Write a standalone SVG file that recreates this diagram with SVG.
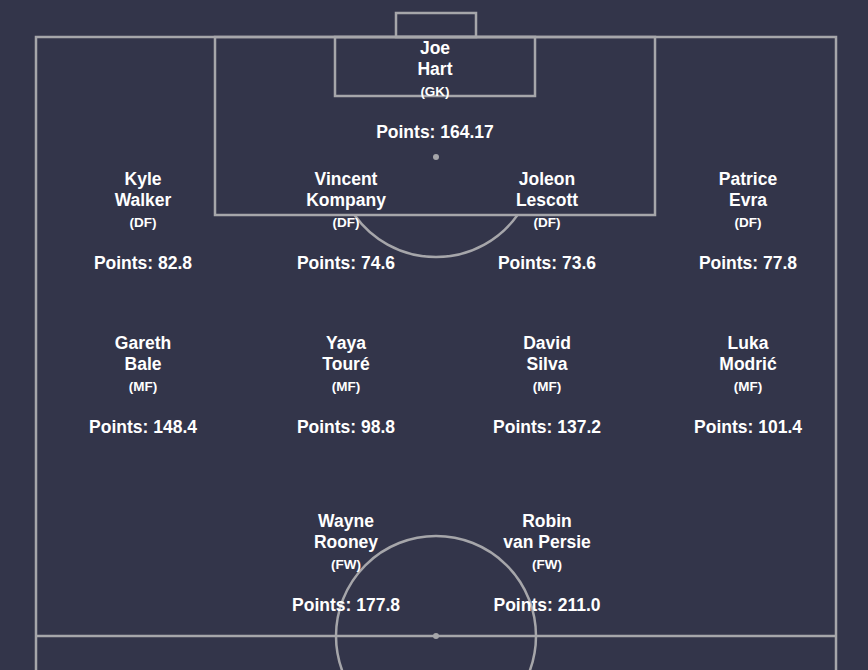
<svg xmlns="http://www.w3.org/2000/svg" width="868" height="670" viewBox="0 0 868 670">
<style>
.ln{fill:none;stroke:#a6a6aa;stroke-width:2.5}
.spot{fill:#a6a6aa}
text{font-family:"Liberation Sans",Arial,sans-serif;font-weight:bold;fill:#ffffff;text-anchor:middle}
.nm{font-size:17.5px}
.ps{font-size:13.5px}
.pt{font-size:17.5px}
</style>
<rect width="868" height="670" fill="#33354a"/>
<g id="pitch">
<rect class="ln" x="36" y="37" width="800" height="1198"/>
<line class="ln" x1="36" y1="636" x2="836" y2="636"/>
<circle class="ln" cx="436" cy="636" r="100"/>
<circle class="spot" cx="436" cy="636" r="3"/>
<rect class="ln" x="215" y="37" width="440" height="178"/>
<rect class="ln" x="335" y="37" width="200" height="59"/>
<rect class="ln" x="396" y="13" width="80" height="24"/>
<circle class="spot" cx="436" cy="157" r="3"/>
<path class="ln" d="M354.5 215 A100 100 0 0 0 517.5 215"/>
</g>
<g id="connectors"></g>
<g id="gk-hart"><text class="nm" x="435" y="54">Joe</text><text class="nm" x="435" y="75">Hart</text><text class="ps" x="435" y="96">(GK)</text><text class="pt" x="435" y="138">Points: 164.17</text></g>
<g id="df-walker"><text class="nm" x="143" y="185">Kyle</text><text class="nm" x="143" y="206">Walker</text><text class="ps" x="143" y="227">(DF)</text><text class="pt" x="143" y="269">Points: 82.8</text></g>
<g id="df-kompany"><text class="nm" x="346" y="185">Vincent</text><text class="nm" x="346" y="206">Kompany</text><text class="ps" x="346" y="227">(DF)</text><text class="pt" x="346" y="269">Points: 74.6</text></g>
<g id="df-lescott"><text class="nm" x="547" y="185">Joleon</text><text class="nm" x="547" y="206">Lescott</text><text class="ps" x="547" y="227">(DF)</text><text class="pt" x="547" y="269">Points: 73.6</text></g>
<g id="df-evra"><text class="nm" x="748" y="185">Patrice</text><text class="nm" x="748" y="206">Evra</text><text class="ps" x="748" y="227">(DF)</text><text class="pt" x="748" y="269">Points: 77.8</text></g>
<g id="mf-bale"><text class="nm" x="143" y="349">Gareth</text><text class="nm" x="143" y="370">Bale</text><text class="ps" x="143" y="391">(MF)</text><text class="pt" x="143" y="433">Points: 148.4</text></g>
<g id="mf-toure"><text class="nm" x="346" y="349">Yaya</text><text class="nm" x="346" y="370">Touré</text><text class="ps" x="346" y="391">(MF)</text><text class="pt" x="346" y="433">Points: 98.8</text></g>
<g id="mf-silva"><text class="nm" x="547" y="349">David</text><text class="nm" x="547" y="370">Silva</text><text class="ps" x="547" y="391">(MF)</text><text class="pt" x="547" y="433">Points: 137.2</text></g>
<g id="mf-modric"><text class="nm" x="748" y="349">Luka</text><text class="nm" x="748" y="370">Modrić</text><text class="ps" x="748" y="391">(MF)</text><text class="pt" x="748" y="433">Points: 101.4</text></g>
<g id="fw-rooney"><text class="nm" x="346" y="527">Wayne</text><text class="nm" x="346" y="548">Rooney</text><text class="ps" x="346" y="569">(FW)</text><text class="pt" x="346" y="611">Points: 177.8</text></g>
<g id="fw-vanpersie"><text class="nm" x="547" y="527">Robin</text><text class="nm" x="547" y="548">van Persie</text><text class="ps" x="547" y="569">(FW)</text><text class="pt" x="547" y="611">Points: 211.0</text></g>
</svg>
